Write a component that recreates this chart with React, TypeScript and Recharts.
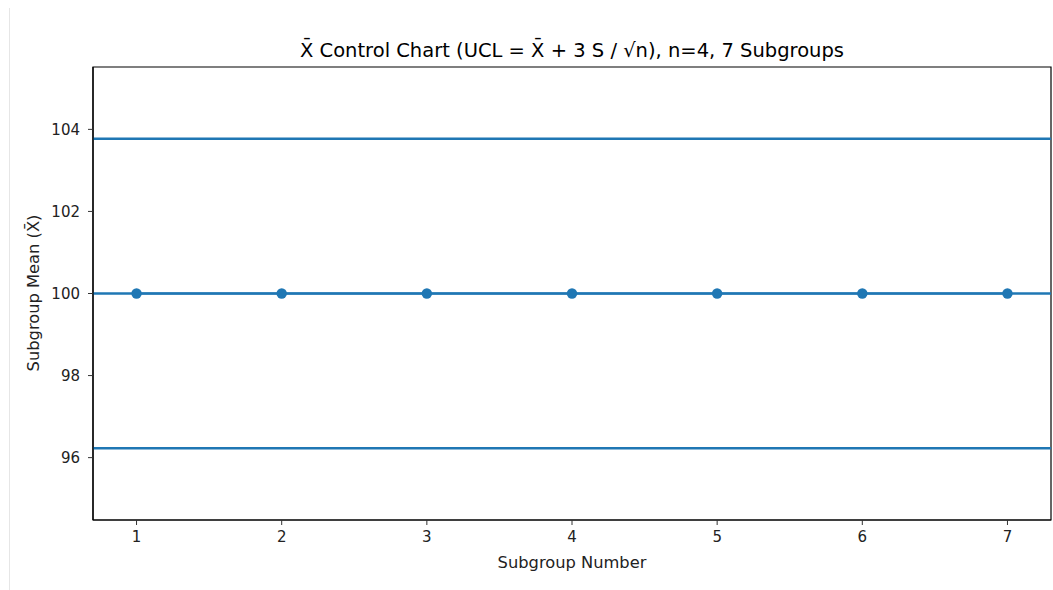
import React from "react";
import { ComposedChart, Line, XAxis, YAxis, ReferenceLine, ReferenceArea } from "recharts";

const subgroups = [1, 2, 3, 4, 5, 6, 7];
const means = [100, 100, 100, 100, 100, 100, 100];
const centerLine = 100;
const ucl = 103.77;
const lcl = 96.23;
const xTicks = [1, 2, 3, 4, 5, 6, 7];
const yTicks = [96, 98, 100, 102, 104];
const xDomain = [0.7, 7.3];
const yDomain = [94.48, 105.52];

const data = subgroups.map((s, i) => ({ x: s, y: means[i] }));

const BLUE = "#1f77b4";
const FONT = "DejaVu Sans, sans-serif";

export default function App() {
  return (
    <div style={{ position: "relative", width: 1053, height: 590, fontFamily: FONT, overflow: "hidden" }}>
      <style>{`html,body{margin:0;padding:0;}`}</style>
      <div style={{ position: "absolute", left: 9, top: 8, width: 1, height: 582, background: "#e6e6e6" }} />
      <ComposedChart
        width={1053}
        height={590}
        data={data}
        margin={{ top: 67, right: 2, bottom: 40, left: 33 }}
      >
        <XAxis
          dataKey="x"
          type="number"
          domain={xDomain}
          ticks={xTicks}
          allowDataOverflow
          height={30}
          tickSize={5}
          tickMargin={6}
          tick={{ fill: "#222", fontSize: 15, fontFamily: FONT }}
          tickLine={{ stroke: "#333" }}
          axisLine={{ stroke: "#000", strokeWidth: 1.2 }}
        />
        <YAxis
          type="number"
          domain={yDomain}
          ticks={yTicks}
          allowDataOverflow
          width={60}
          tickSize={5}
          tickMargin={8}
          tick={{ fill: "#222", fontSize: 15, fontFamily: FONT }}
          tickLine={{ stroke: "#333" }}
          axisLine={{ stroke: "#000", strokeWidth: 1.2 }}
        />
        <ReferenceArea
          x1={xDomain[0]}
          x2={xDomain[1]}
          y1={yDomain[0]}
          y2={yDomain[1]}
          fill="none"
          stroke="#000"
          strokeWidth={1.2}
          ifOverflow="extendDomain"
        />
        <ReferenceLine y={ucl} stroke={BLUE} strokeWidth={2.4} />
        <ReferenceLine y={centerLine} stroke={BLUE} strokeWidth={2.4} />
        <ReferenceLine y={lcl} stroke={BLUE} strokeWidth={2.4} />
        <Line
          dataKey="y"
          stroke={BLUE}
          strokeWidth={2}
          dot={{ r: 5.2, fill: BLUE, stroke: BLUE, strokeWidth: 0 }}
          isAnimationActive={false}
        />
      </ComposedChart>
      <div style={{ position: "absolute", left: 93, width: 958, top: 38.5, textAlign: "center", fontSize: 19.5, color: "#000", whiteSpace: "nowrap" }}>
        X̄ Control Chart (UCL = X̄ + 3 S / √n), n=4, 7 Subgroups
      </div>
      <div style={{ position: "absolute", left: 93, width: 958, top: 552.5, textAlign: "center", fontSize: 16.3, color: "#222", whiteSpace: "nowrap" }}>
        Subgroup Number
      </div>
      <div
        style={{
          position: "absolute",
          left: 33,
          top: 293,
          width: 0,
          height: 0,
          fontSize: 16.3,
          color: "#222",
          whiteSpace: "nowrap",
        }}
      >
        <div style={{ position: "absolute", transform: "translate(-50%, -50%) rotate(-90deg)", left: 0, top: 0 }}>
          Subgroup Mean (X̄)
        </div>
      </div>
    </div>
  );
}
